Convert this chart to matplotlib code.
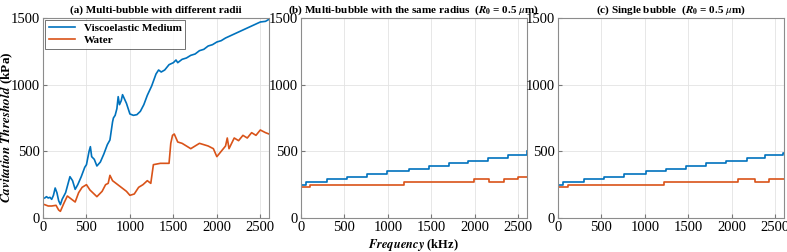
import matplotlib.pyplot as plt
import numpy as np

plt.rcParams['font.family'] = ['Liberation Serif', 'DejaVu Serif']
plt.rcParams['mathtext.fontset'] = 'stix'

BLUE = '#0072BD'
ORANGE = '#D95319'

# (a) multi-bubble, different radii
f_visco_a = [20, 40, 60, 80, 100, 120, 140, 160, 180, 200, 220, 260, 310, 340, 370, 400,
             440, 480, 500, 530, 545, 560, 590, 620, 660, 700, 740, 770, 800, 810, 830,
             850, 865, 880, 900, 915, 960, 1000, 1040, 1080, 1120, 1160, 1200, 1250, 1300,
             1330, 1360, 1400, 1450, 1500, 1530, 1550, 1600, 1650, 1700, 1750, 1800, 1850,
             1900, 1950, 2000, 2050, 2100, 2150, 2200, 2250, 2300, 2350, 2400, 2450, 2500,
             2560, 2600]
visco_a = [150, 160, 150, 155, 140, 170, 225, 190, 130, 100, 140, 190, 310, 280, 215, 250,
           310, 380, 400, 500, 535, 460, 440, 390, 420, 480, 550, 585, 720, 750, 770,
           820, 910, 850, 880, 925, 860, 780, 770, 775, 800, 850, 920, 990, 1080,
           1110, 1095, 1110, 1150, 1165, 1185, 1165, 1190, 1200, 1220, 1230, 1255, 1265,
           1290, 1300, 1320, 1330, 1350, 1365, 1380, 1395, 1410, 1425, 1440, 1455, 1470,
           1475, 1490]
f_water_a = [20, 60, 100, 150, 180, 200, 240, 280, 330, 370, 410, 450, 500, 540, 620, 680,
             720, 750, 770, 800, 860, 920, 960, 1000, 1050, 1100, 1150, 1200, 1240, 1270,
             1350, 1450, 1470, 1490, 1510, 1550, 1600, 1700, 1800, 1900, 1960, 2000, 2050,
             2100, 2120, 2140, 2200, 2250, 2300, 2350, 2400, 2450, 2500, 2560, 2600]
water_a = [100, 90, 90, 95, 60, 50, 110, 165, 140, 120, 190, 230, 250, 210, 160, 200,
           250, 260, 320, 280, 250, 220, 200, 170, 180, 230, 250, 280, 260, 400,
           410, 410, 560, 620, 630, 570, 560, 520, 560, 540, 520, 460, 500,
           540, 600, 520, 600, 580, 620, 600, 640, 620, 660, 640, 630]

# (b) multi-bubble, same radius (step edges / levels)
f_visco_b = [0, 62, 294, 526, 758, 990, 1242, 1474, 1706, 1919, 2151, 2383, 2596, 2600]
visco_b = [250, 270, 290, 310, 330, 350, 370, 390, 410, 430, 450, 470, 500, 500]
f_water_b = [0, 100, 1184, 1996, 2162, 2333, 2499, 2600]
water_b = [230, 250, 270, 290, 270, 290, 310, 310]

# (c) single bubble
f_visco_c = [0, 62, 294, 526, 758, 1010, 1242, 1474, 1706, 1938, 2170, 2383, 2590, 2600]
visco_c = [250, 270, 290, 310, 330, 350, 370, 390, 410, 430, 450, 470, 490, 490]
f_water_c = [0, 112, 1222, 2073, 2267, 2422, 2600]
water_c = [230, 250, 270, 290, 270, 290, 290]

titles = ['(a) Multi-bubble with different radii',
          r'(b) Multi-bubble with the same radius  ($\mathbfit{R}_{\mathbf{0}}$ = 0.5 $\mu$m)',
          r'(c) Single bubble  ($\mathbfit{R}_{\mathbf{0}}$ = 0.5 $\mu$m)']

fig = plt.figure(figsize=(7.87, 2.52), dpi=100)
lefts = [43 / 787, 301 / 787, 558 / 787]
axes = [fig.add_axes([l, 34 / 252, 226 / 787, 200 / 252]) for l in lefts]

a, b, c = axes
a.plot(f_visco_a, visco_a, color=BLUE, lw=1.2, label='Viscoelastic Medium')
a.plot(f_water_a, water_a, color=ORANGE, lw=1.2, label='Water')
b.step(f_visco_b, visco_b, where='post', color=BLUE, lw=1.2)
b.step(f_water_b, water_b, where='post', color=ORANGE, lw=1.2)
c.step(f_visco_c, visco_c, where='post', color=BLUE, lw=1.2)
c.step(f_water_c, water_c, where='post', color=ORANGE, lw=1.2)

for ax, t in zip(axes, titles):
    ax.set_xlim(0, 2600)
    ax.set_ylim(0, 1500)
    ax.set_xticks([0, 500, 1000, 1500, 2000, 2500])
    ax.set_yticks([0, 500, 1000, 1500])
    ax.grid(True, color='#e3e3e3', lw=0.6)
    ax.set_axisbelow(True)
    ax.tick_params(direction='in', length=3, color='#777777', labelsize=10.5, pad=2.5)
    for s in ax.spines.values():
        s.set_color('#8c8c8c')
        s.set_linewidth(0.8)
    ax.set_title(t, fontsize=8, fontweight='bold', pad=4)

leg = a.legend(loc='upper left', prop={'weight': 'bold', 'size': 8},
               frameon=True, fancybox=False, borderaxespad=0.2, handlelength=2.4,
               borderpad=0.3, labelspacing=0.2)
leg.get_frame().set_edgecolor('#333333')
leg.get_frame().set_linewidth(0.6)

fig.text(413 / 787, 1 - 245 / 252, r'$\mathbfit{Frequency}$ (kHz)', ha='center', va='center',
         fontsize=9, fontweight='bold')
fig.text(7 / 787, 1 - 127 / 252, r'$\mathbfit{Cavitation\ Threshold}$ (kPa)', ha='center',
         va='center', rotation=90, fontsize=9.5, fontweight='bold')

fig.savefig('out.png', dpi=100)
